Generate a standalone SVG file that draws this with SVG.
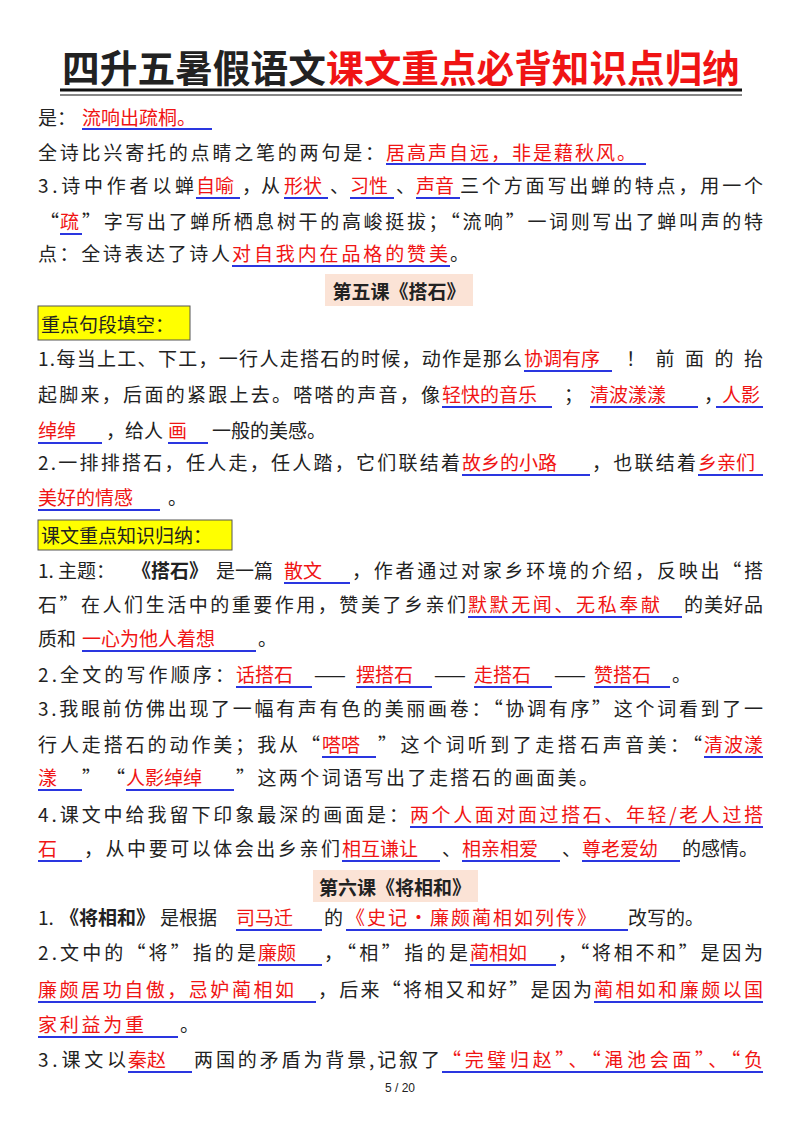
<svg xmlns="http://www.w3.org/2000/svg" width="800" height="1132" viewBox="0 0 800 1132">
<style>
text{font-family:"Noto Sans CJK SC","Noto Sans",sans-serif;font-size:19px;fill:#222}
.r{fill:#f01414}
.b{font-weight:bold}
#ul line{stroke:#2a36e0;stroke-width:2}
</style>
<rect width="800" height="1132" fill="#fff"/>
<g id="title">
<text x="62" y="82" class="b" style="font-size:38px" textLength="264" lengthAdjust="spacingAndGlyphs">四升五暑假语文</text>
<text x="326" y="82" class="b r" style="font-size:38px" textLength="414" lengthAdjust="spacingAndGlyphs">课文重点必背知识点归纳</text>
<line x1="60" y1="90" x2="742" y2="90" stroke="#111" stroke-width="3"/>
<line x1="60" y1="95" x2="742" y2="95" stroke="#111" stroke-width="1.2"/>
</g>
<g id="headers">
<rect x="325" y="274" width="148" height="32" fill="#fbe3d6"/>
<text x="399" y="299" class="b" text-anchor="middle">第五课《搭石》</text>
<rect x="38" y="306" width="152" height="34" fill="#ffff00" stroke="#555" stroke-width="1"/>
<text x="41" y="332">重点句段填空：</text>
<rect x="38" y="520" width="194" height="30" fill="#ffff00" stroke="#555" stroke-width="1"/>
<text x="41" y="543">课文重点知识归纳：</text>
<rect x="313" y="870" width="165" height="32" fill="#fbe3d6"/>
<text x="395" y="895" class="b" text-anchor="middle">第六课《将相和》</text>
</g>
<g id="body">
<text x="38" y="125">是：</text><text x="82" y="125" class="r">流响出疏桐。</text>
<text x="38" y="160" textLength="346">全诗比兴寄托的点睛之笔的两句是：</text><text x="386" y="160" class="r" textLength="250">居高声自远，非是藉秋风。</text>
<text x="38" y="193" textLength="156">3.诗中作者以蝉</text><text x="196" y="193" class="r">自喻</text><text x="242" y="193">，从</text><text x="284" y="193" class="r">形状</text><text x="330" y="193">、</text><text x="350" y="193" class="r">习性</text><text x="396" y="193">、</text><text x="416" y="193" class="r">声音</text><text x="460" y="193" textLength="303">三个方面写出蝉的特点，用一个</text>
<text x="40" y="229">“</text><text x="60" y="229" class="r">疏</text><text x="82" y="229" textLength="681">”字写出了蝉所栖息树干的高峻挺拔；“流响”一词则写出了蝉叫声的特</text>
<text x="38" y="261" textLength="192">点：全诗表达了诗人</text><text x="232" y="261" class="r" textLength="216">对自我内在品格的赞美</text><text x="450" y="261">。</text>

<text x="38" y="366" textLength="484">1.每当上工、下工，一行人走搭石的时候，动作是那么</text><text x="524" y="366" class="r">协调有序</text><text x="626" y="366" textLength="137">！前面的抬</text>
<text x="38" y="402" textLength="402">起脚来，后面的紧跟上去。嗒嗒的声音，像</text><text x="442" y="402" class="r">轻快的音乐</text><text x="564" y="402">；</text><text x="590" y="402" class="r">清波漾漾</text><text x="704" y="402">，</text><text x="722" y="402" class="r">人影</text>
<text x="38" y="438" class="r">绰绰</text><text x="106" y="438">，给人</text><text x="168" y="438" class="r">画</text><text x="212" y="438">一般的美感。</text>
<text x="38" y="470" textLength="422">2.一排排搭石，任人走，任人踏，它们联结着</text><text x="462" y="470" class="r">故乡的小路</text><text x="592" y="470" textLength="104">，也联结着</text><text x="698" y="470" class="r">乡亲们</text>
<text x="38" y="505" class="r">美好的情感</text><text x="168" y="505">。</text>

<text x="38" y="578">1.  主题：</text><text x="132" y="578" class="b">《搭石》</text><text x="216" y="578">是一篇</text><text x="284" y="578" class="r">散文</text><text x="352" y="578" textLength="411">，作者通过对家乡环境的介绍，反映出“搭</text>
<text x="38" y="612" textLength="428">石”在人们生活中的重要作用，赞美了乡亲们</text><text x="468" y="612" class="r" textLength="192">默默无闻、无私奉献</text><text x="684" y="612" textLength="79">的美好品</text>
<text x="38" y="646">质和</text><text x="82" y="646" class="r">一心为他人着想</text><text x="258" y="646">。</text>
<text x="38" y="682" textLength="196">2.全文的写作顺序：</text><text x="236" y="682" class="r">话搭石</text><text x="314" y="682">——</text><text x="356" y="682" class="r">摆搭石</text><text x="434" y="682">——</text><text x="474" y="682" class="r">走搭石</text><text x="554" y="682">——</text><text x="594" y="682" class="r">赞搭石</text><text x="672" y="682">。</text>
<text x="38" y="716" textLength="725">3.我眼前仿佛出现了一幅有声有色的美丽画卷：“协调有序”这个词看到了一</text>
<text x="38" y="752" textLength="282">行人走搭石的动作美；我从“</text><text x="322" y="752" class="r">嗒嗒</text><text x="378" y="752" textLength="324">”这个词听到了走搭石声音美：“</text><text x="704" y="752" class="r" textLength="59">清波漾</text>
<text x="38" y="785" class="r">漾</text><text x="82" y="785">”</text><text x="106" y="785">“</text><text x="126" y="785" class="r">人影绰绰</text><text x="236" y="785" textLength="362">”这两个词语写出了走搭石的画面美。</text>
<text x="38" y="822" textLength="370">4.课文中给我留下印象最深的画面是：</text><text x="410" y="822" class="r" textLength="353">两个人面对面过搭石、年轻/老人过搭</text>
<text x="38" y="856" class="r">石</text><text x="84" y="856" textLength="256">，从中要可以体会出乡亲们</text><text x="342" y="856" class="r">相互谦让</text><text x="442" y="856">、</text><text x="462" y="856" class="r">相亲相爱</text><text x="562" y="856">、</text><text x="582" y="856" class="r">尊老爱幼</text><text x="682" y="856">的感情。</text>

<text x="38" y="925">1.</text><text x="60" y="925" class="b">《将相和》</text><text x="160" y="925">是根据</text><text x="236" y="925" class="r">司马迁</text><text x="324" y="925">的</text><text x="346" y="925" class="r" textLength="250">《史记·廉颇蔺相如列传》</text><text x="628" y="925">改写的。</text>
<text x="38" y="960" textLength="218">2.文中的“将”指的是</text><text x="258" y="960" class="r">廉颇</text><text x="324" y="960" textLength="144">，“相”指的是</text><text x="470" y="960" class="r">蔺相如</text><text x="558" y="960" textLength="205">，“将相不和”是因为</text>
<text x="38" y="997" class="r" textLength="256">廉颇居功自傲，忌妒蔺相如</text><text x="318" y="997" textLength="274">，后来“将相又和好”是因为</text><text x="594" y="997" class="r" textLength="169">蔺相如和廉颇以国</text>
<text x="38" y="1032" class="r" textLength="106">家利益为重</text><text x="180" y="1032">。</text>
<text x="38" y="1067" textLength="88">3.课文以</text><text x="128" y="1067" class="r">秦赵</text><text x="194" y="1067" textLength="246">两国的矛盾为背景,记叙了</text><text x="442" y="1067" class="r" textLength="321">“完璧归赵”、“渑池会面”、“负</text>
<text x="400" y="1092" text-anchor="middle" style="font-size:12px;font-family:'Liberation Sans',sans-serif">5 / 20</text>
</g>
<g id="ul">
<line x1="82" y1="129" x2="212" y2="129"/>
<line x1="386" y1="164" x2="646" y2="164"/>
<line x1="196" y1="198" x2="240" y2="198"/><line x1="284" y1="198" x2="328" y2="198"/><line x1="350" y1="198" x2="394" y2="198"/><line x1="416" y1="198" x2="460" y2="198"/>
<line x1="60" y1="234" x2="82" y2="234"/>
<line x1="232" y1="266" x2="450" y2="266"/>
<line x1="524" y1="371" x2="612" y2="371"/>
<line x1="442" y1="407" x2="552" y2="407"/><line x1="590" y1="407" x2="698" y2="407"/><line x1="716" y1="407" x2="763" y2="407"/>
<line x1="38" y1="443" x2="102" y2="443"/><line x1="168" y1="443" x2="208" y2="443"/>
<line x1="462" y1="475" x2="590" y2="475"/><line x1="698" y1="475" x2="763" y2="475"/>
<line x1="38" y1="510" x2="160" y2="510"/>
<line x1="284" y1="583" x2="350" y2="583"/>
<line x1="468" y1="617" x2="682" y2="617"/>
<line x1="82" y1="651" x2="256" y2="651"/>
<line x1="236" y1="687" x2="312" y2="687"/><line x1="356" y1="687" x2="432" y2="687"/><line x1="474" y1="687" x2="552" y2="687"/><line x1="594" y1="687" x2="670" y2="687"/>
<line x1="322" y1="757" x2="376" y2="757"/><line x1="704" y1="757" x2="763" y2="757"/>
<line x1="38" y1="790" x2="82" y2="790"/><line x1="126" y1="790" x2="234" y2="790"/>
<line x1="410" y1="827" x2="763" y2="827"/>
<line x1="38" y1="861" x2="82" y2="861"/><line x1="342" y1="861" x2="440" y2="861"/><line x1="462" y1="861" x2="560" y2="861"/><line x1="582" y1="861" x2="680" y2="861"/>
<line x1="236" y1="930" x2="322" y2="930"/><line x1="346" y1="930" x2="628" y2="930"/>
<line x1="258" y1="965" x2="322" y2="965"/><line x1="470" y1="965" x2="556" y2="965"/>
<line x1="38" y1="1002" x2="316" y2="1002"/><line x1="594" y1="1002" x2="763" y2="1002"/>
<line x1="38" y1="1037" x2="178" y2="1037"/>
<line x1="128" y1="1072" x2="192" y2="1072"/><line x1="442" y1="1072" x2="763" y2="1072"/>
</g>
</svg>
